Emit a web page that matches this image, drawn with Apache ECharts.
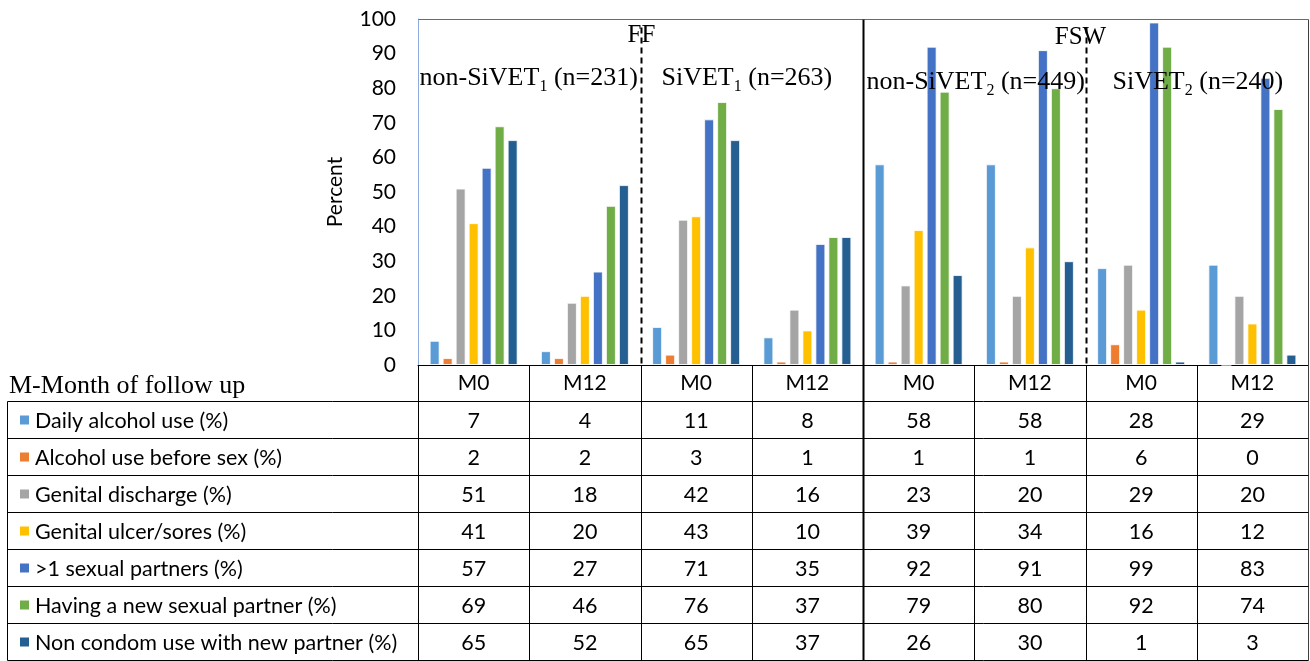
<!DOCTYPE html>
<html><head><meta charset="utf-8">
<script src="https://cdn.jsdelivr.net/npm/echarts@6/dist/echarts.min.js"></script>
<style>html,body{margin:0;padding:0;background:#fff}#c{width:1310px;height:661px}</style>
</head><body><div id="c"></div>
<script>
// ---------- data ----------
const categories = ['M0','M12','M0','M12','M0','M12','M0','M12'];
const seriesNames = ['Daily alcohol use (%)','Alcohol use before sex (%)','Genital discharge (%)','Genital ulcer/sores (%)','>1 sexual partners (%)','Having a new sexual partner (%)','Non condom use with new partner (%)'];
const dailyAlcohol     = [7, 4, 11, 8, 58, 58, 28, 29];
const alcoholBeforeSex = [2, 2, 3, 1, 1, 1, 6, 0];
const genitalDischarge = [51, 18, 42, 16, 23, 20, 29, 20];
const genitalUlcer     = [41, 20, 43, 10, 39, 34, 16, 12];
const multiplePartners = [57, 27, 71, 35, 92, 91, 99, 83];
const newPartner       = [69, 46, 76, 37, 79, 80, 92, 74];
const nonCondom        = [65, 52, 65, 37, 26, 30, 1, 3];
const groupTitles = ['FF', 'FSW'];
const subgroupNames = ['non-SiVET', 'SiVET', 'non-SiVET', 'SiVET'];
const subgroupSubs = ['1', '1', '2', '2'];
const subgroupNs = ['(n=231)', '(n=263)', '(n=449)', '(n=240)'];
const tableCaption = 'M-Month of follow up';
const yAxisName = 'Percent';

const seriesData = [dailyAlcohol, alcoholBeforeSex, genitalDischarge, genitalUlcer, multiplePartners, newPartner, nonCondom];
const seriesColors = ['#5B9BD5','#ED7D31','#A5A5A5','#FFC000','#4472C4','#70AD47','#255E91'];

// ---------- layout ----------
const SANS = 'Lato';
const SERIF = '"Liberation Serif", "Times New Roman", serif';
const headerH = 36, rowH = 37, tableLeft = 7.5;

const chart = echarts.init(document.getElementById('c'));
chart.setOption({
  animation: false,
  grid: { left: 418, top: 19, right: 2, bottom: 296 },
  xAxis: {
    type: 'category', data: categories,
    axisLine: { show: true, lineStyle: { color: '#000', width: 1 } },
    axisTick: { show: false },
    axisLabel: { color: '#000', fontFamily: SANS, fontSize: 21, margin: 8, interval: 0 }
  },
  yAxis: {
    type: 'value', min: 0, max: 100, interval: 10,
    name: yAxisName, nameLocation: 'middle', nameGap: 72, nameRotate: 90,
    nameTextStyle: { color: '#000', fontFamily: SANS, fontSize: 21 },
    axisLine: { show: true, lineStyle: { color: '#8FAADC' } },
    axisTick: { show: false },
    splitLine: { show: false },
    axisLabel: { color: '#000', fontFamily: SANS, fontSize: 21, margin: 22 }
  },
  series: seriesData.map((d, i) => ({
    name: seriesNames[i], type: 'bar', data: d,
    barWidth: 10, barGap: '30%',
    itemStyle: { color: seriesColors[i], borderColor: 'rgba(255,255,255,0.8)', borderWidth: 1 }
  }))
});

// ---------- table + annotations (positions from the axes) ----------
const cx = i => chart.convertToPixel({ xAxisIndex: 0 }, i);
const band = cx(1) - cx(0);
const bnd = k => Math.round(cx(0) - band / 2 + k * band) + 0.5;
const y0 = Math.round(chart.convertToPixel({ yAxisIndex: 0 }, 0)) + 0.5;
const yTop = Math.round(chart.convertToPixel({ yAxisIndex: 0 }, 100)) + 0.5;
const tableTop = y0 + headerH;
const tableBottom = tableTop + rowH * seriesNames.length;

const els = [];
const line = (x1, y1, x2, y2, stroke, w, dash) => els.push({
  type: 'line', z: 100, shape: { x1, y1, x2, y2 },
  style: { stroke, lineWidth: w || 1, lineDash: dash || null }
});
const text = (t, x, y, font, align, extra) => els.push(Object.assign({
  type: 'text', z: 110,
  style: { text: t, x, y, fill: '#000', font, textAlign: align || 'left', textVerticalAlign: 'middle' }
}, extra || {}));

// plot frame
line(bnd(0), yTop, bnd(8), yTop, '#6b6b6b', 1);
line(bnd(8), yTop, bnd(8), tableBottom, '#404040', 1);
// horizontal table lines
for (let r = 0; r <= seriesNames.length; r++) {
  const y = tableTop + r * rowH;
  line(tableLeft, y, bnd(8), y, '#000', 1);
}
// vertical table lines
line(tableLeft, tableTop, tableLeft, tableBottom, '#000', 1);
for (let k = 0; k < 8; k++) {
  if (k === 4) continue;
  line(bnd(k), y0, bnd(k), tableBottom, '#000', 1);
}
// thick separator between FF and FSW
line(bnd(4), yTop, bnd(4), tableBottom, '#000', 2);
// dashed separators
line(bnd(2), yTop + 8, bnd(2), y0, '#000', 2, [6, 4]);
line(bnd(6), yTop + 8, bnd(6), y0, '#000', 2, [6, 4]);

// table text
text(tableCaption, 9, y0 + 21, '26px ' + SERIF, 'left');
seriesNames.forEach((nm, r) => {
  const yc = tableTop + r * rowH + rowH / 2;
  els.push({ type: 'rect', z: 110, shape: { x: 20, y: yc - 4.5, width: 9, height: 9 }, style: { fill: seriesColors[r] } });
  text(nm, 35, yc + 1, '21.5px ' + SANS, 'left');
  seriesData[r].forEach((v, c) => text(String(v), cx(c), yc + 1, '21.5px ' + SANS, 'center'));
});

// group titles
text(groupTitles[0], bnd(2), 35, '25px ' + SERIF, 'center');
text(groupTitles[1], bnd(6) - 6, 37, '25px ' + SERIF, 'center');

// subgroup labels with subscripts
const subX = [bnd(0) + 1, bnd(2) + 20, bnd(4) + 3, bnd(6) + 26];
const subY = [78, 78, 82, 82];
subgroupNames.forEach((nm, g) => {
  els.push({
    type: 'text', z: 110,
    style: {
      x: subX[g], y: subY[g], textAlign: 'left', textVerticalAlign: 'middle',
      text: '{a|' + nm + '}{s|' + subgroupSubs[g] + '}{a| ' + subgroupNs[g] + '}',
      rich: {
        a: { fontFamily: SERIF, fontSize: 26, lineHeight: 34, fill: '#000', color: '#000' },
        s: { fontFamily: SERIF, fontSize: 16, lineHeight: 16, verticalAlign: 'bottom', fill: '#000', color: '#000' }
      }
    }
  });
});

chart.setOption({ graphic: { elements: els } });
</script>
</body></html>
